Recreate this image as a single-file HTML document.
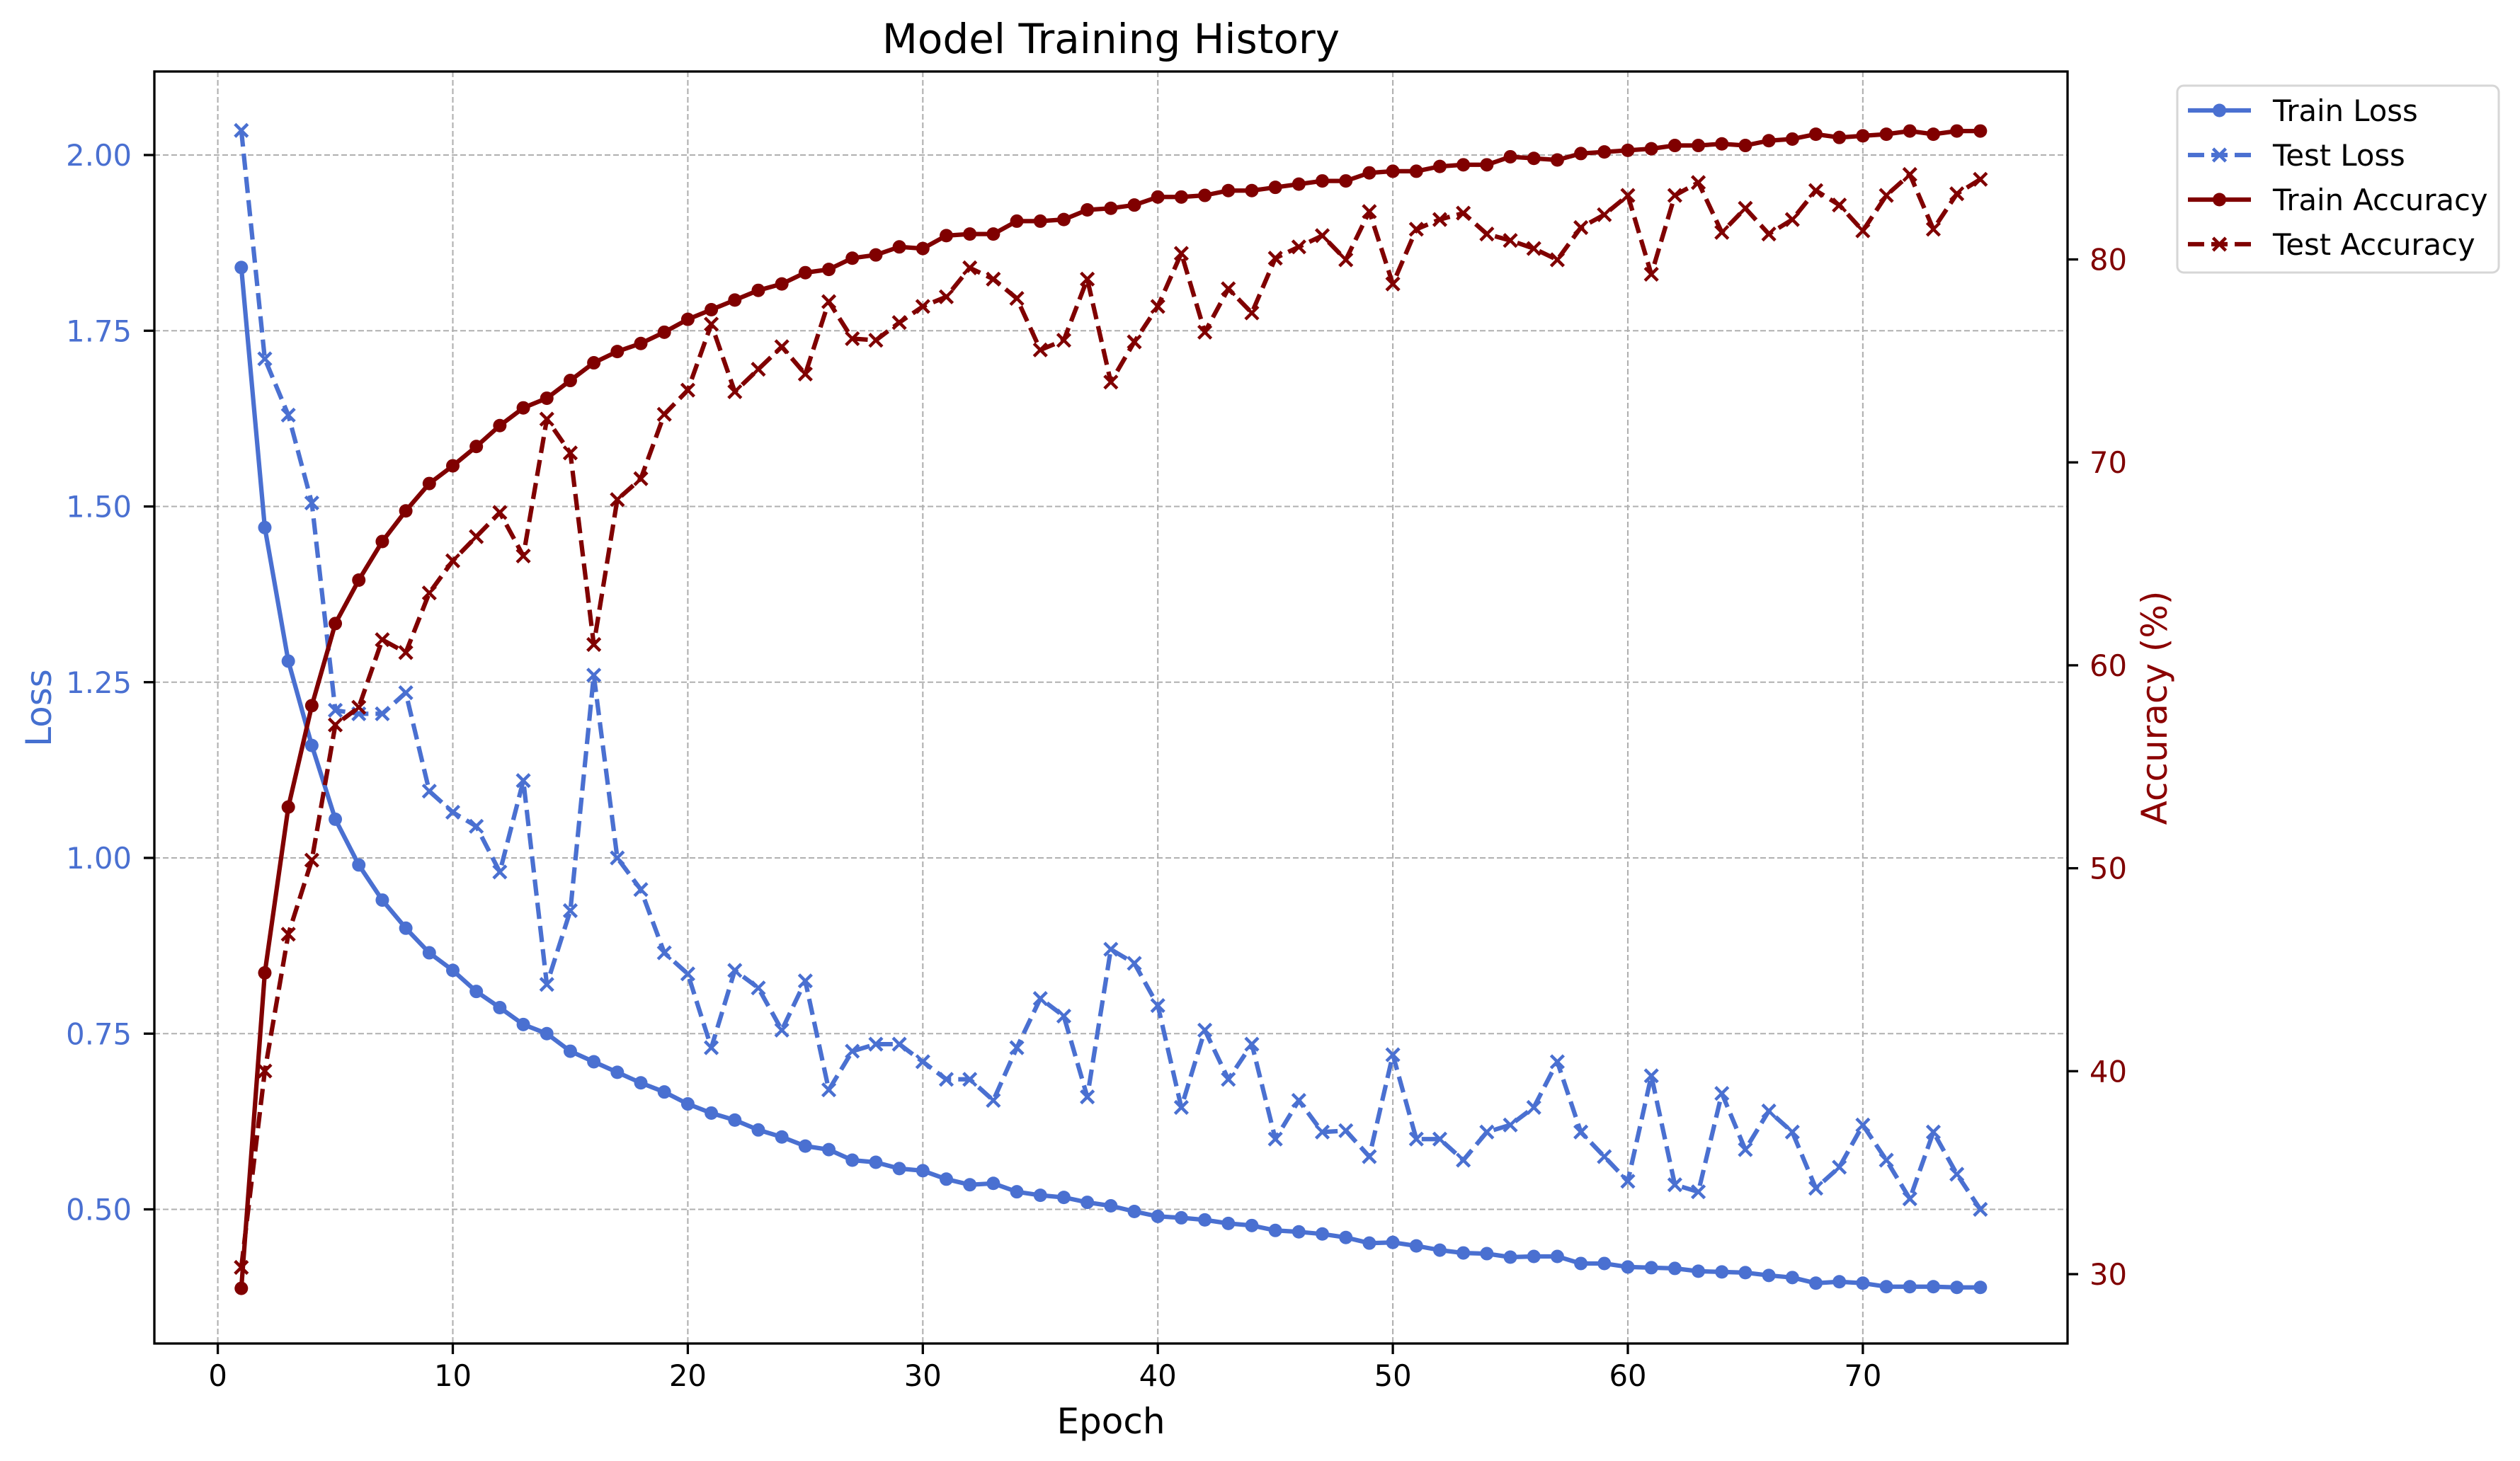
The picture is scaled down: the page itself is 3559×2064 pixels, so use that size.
<!DOCTYPE html>
<html><head><meta charset="utf-8"><style>
html,body{margin:0;padding:0;background:#fff;}
svg{display:block;font-family:"DejaVu Sans","Liberation Sans",sans-serif;}
</style></head><body>
<svg id="s" width="3559" height="2064" xmlns="http://www.w3.org/2000/svg">
<rect width="3559" height="2064" fill="#fff"/>
<g id="grid"></g>
<g id="series"></g>
<rect x="218" y="101" width="2702" height="1797" fill="none" stroke="#000" stroke-width="3.3"/>
<g id="ticks"></g>
<text x="1569" y="75" font-size="58" text-anchor="middle">Model Training History</text>
<text x="1569" y="2025" font-size="50" text-anchor="middle">Epoch</text>
<text transform="translate(72,1000) rotate(-90)" font-size="50" text-anchor="middle" fill="#4570d0">Loss</text>
<text transform="translate(3060,1000) rotate(-90)" font-size="50" text-anchor="middle" fill="#8b0000">Accuracy (%)</text>
<g id="legend">
<rect x="3075" y="121" width="454" height="264" rx="9" fill="#fff" stroke="#d6d6d6" stroke-width="3"/>
</g>
</svg>
<script>
const NS="http://www.w3.org/2000/svg";
function el(p,t,a,txt){const e=document.createElementNS(NS,t);for(const k in a)e.setAttribute(k,a[k]);if(txt!==undefined)e.textContent=txt;document.getElementById(p).appendChild(e);return e;}
const X=e=>307.6+33.19*e;
const YL=L=>219+(2-L)*993;
const YA=A=>1800-(A-30)*28.67;
const BL="#4a70d1",RD="#800000";
// grid
for(let e=0;e<=70;e+=10){el("grid","line",{x1:X(e),x2:X(e),y1:101,y2:1898,stroke:"#b0b0b0","stroke-width":2.1,"stroke-dasharray":"8 4"});}
for(let L=0.5;L<=2.001;L+=0.25){el("grid","line",{x1:218,x2:2920,y1:YL(L),y2:YL(L),stroke:"#b0b0b0","stroke-width":2.1,"stroke-dasharray":"8 4"});}
// ticks
for(let e=0;e<=70;e+=10){el("ticks","line",{x1:X(e),x2:X(e),y1:1898,y2:1913,stroke:"#000","stroke-width":3.3});el("ticks","text",{x:X(e),y:1958,"font-size":41.7,"text-anchor":"middle"},String(e));}
for(let L=0.5;L<=2.001;L+=0.25){el("ticks","line",{x1:203,x2:218,y1:YL(L),y2:YL(L),stroke:"#000","stroke-width":3.3});el("ticks","text",{x:186,y:YL(L)+15,"font-size":41.7,"text-anchor":"end",fill:BL},L.toFixed(2));}
for(let A=30;A<=80;A+=10){el("ticks","line",{x1:2920,x2:2935,y1:YA(A),y2:YA(A),stroke:"#000","stroke-width":3.3});el("ticks","text",{x:2951,y:YA(A)+15,"font-size":41.7,fill:RD},String(A));}
// data
const trL=[1.84,1.47,1.28,1.16,1.055,0.99,0.94,0.90,0.865,0.84,0.81,0.787,0.763,0.75,0.725,0.71,0.695,0.68,0.667,0.65,0.637,0.627,0.613,0.603,0.59,0.585,0.57,0.567,0.558,0.555,0.543,0.535,0.537,0.525,0.52,0.517,0.51,0.505,0.497,0.49,0.488,0.485,0.48,0.477,0.47,0.468,0.465,0.46,0.452,0.453,0.448,0.442,0.438,0.437,0.432,0.433,0.433,0.423,0.423,0.418,0.417,0.416,0.412,0.411,0.41,0.406,0.403,0.395,0.397,0.395,0.39,0.39,0.39,0.389,0.389];
const teL=[2.035,1.71,1.63,1.505,1.21,1.205,1.205,1.235,1.095,1.065,1.045,0.98,1.11,0.82,0.925,1.26,1.0,0.955,0.865,0.835,0.73,0.84,0.815,0.755,0.825,0.67,0.725,0.735,0.735,0.71,0.685,0.685,0.655,0.73,0.8,0.775,0.66,0.87,0.85,0.79,0.645,0.755,0.685,0.735,0.6,0.655,0.61,0.612,0.575,0.72,0.6,0.6,0.57,0.61,0.62,0.645,0.71,0.61,0.575,0.54,0.69,0.535,0.525,0.665,0.585,0.64,0.61,0.53,0.56,0.62,0.57,0.515,0.61,0.55,0.5];
const trAd=[800,604,501,438,387,360,336,317,300,289,277,264,253,247,236,225,218,213,206,198,192,186,180,176,169,167,160,158,153,154,146,145,145,137,137,136,130,129,127,122,122,121,118,118,116,114,112,112,107,106,106,103,102,102,97,98,99,95,94,93,92,90,90,89,90,87,86,83,85,84,83,81,83,81,81];
const teAd=[787,665,580,534,450,439,397,405,368,348,333,318,345,260,281,400,310,297,257,242,201,243,229,215,232,187,210,211,200,190,184,166,173,185,217,211,173,237,212,190,157,206,179,194,160,153,146,161,131,176,142,136,132,145,149,154,161,141,133,121,170,121,113,144,129,145,136,118,127,143,121,108,142,120,111];
const dA=yd=>367+(yd-161)*2.274;
function series(ys,col,dashed,marker){
  let d="";ys.forEach((y,i)=>{d+=(i?"L":"M")+X(i+1).toFixed(1)+" "+y.toFixed(1)+" ";});
  const a={d:d,fill:"none",stroke:col,"stroke-width":6.25,"stroke-linejoin":"round"};
  if(dashed)a["stroke-dasharray"]="23 10";
  el("series","path",a);
  ys.forEach((y,i)=>mark("series",X(i+1),y,col,marker));
}
function mark(g,x,y,col,m){
  if(m==="o")el(g,"circle",{cx:x,cy:y,r:9.5,fill:col});
  else{const s=9;el(g,"path",{d:`M${x-s} ${y-s}L${x+s} ${y+s}M${x-s} ${y+s}L${x+s} ${y-s}`,stroke:col,"stroke-width":4.5});}
}
series(trL.map(YL),BL,false,"o");
series(teL.map(YL),BL,true,"x");
series(trAd.map(dA),RD,false,"o");
series(teAd.map(dA),RD,true,"x");
// legend
const items=[["Train Loss",BL,false,"o"],["Test Loss",BL,true,"x"],["Train Accuracy",RD,false,"o"],["Test Accuracy",RD,true,"x"]];
items.forEach((it,i)=>{const y=156+i*63;
  const a={x1:3090,x2:3179,y1:y,y2:y,stroke:it[1],"stroke-width":6.25};
  if(it[2])a["stroke-dasharray"]="23 10";
  el("legend","line",a);mark("legend",3134.5,y,it[1],it[3]);
  el("legend","text",{x:3210,y:y+15,"font-size":41.7},it[0]);
});
</script>
</body></html>
